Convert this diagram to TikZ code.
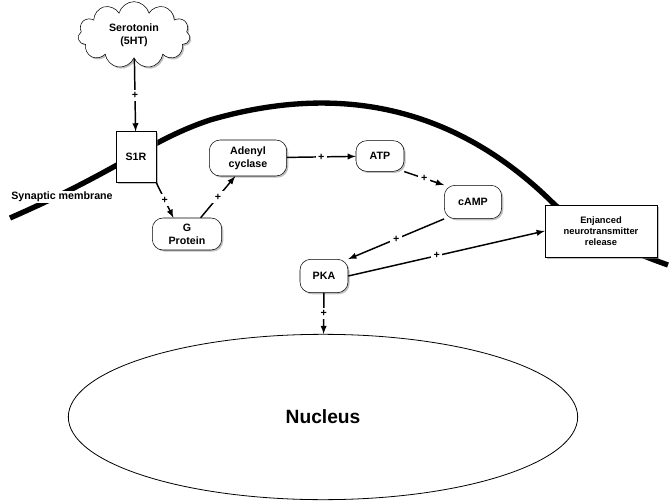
\documentclass[tikz,border=0pt]{standalone}
\usepackage{fontspec}
\setmainfont{Liberation Sans}
\usetikzlibrary{positioning, arrows, shapes.symbols, shapes.geometric, shadows}
\tikzset{
>=latex, % filled arrow heads
box/.style={draw, fill=white, font=\bfseries\footnotesize, align=center, drop shadow={opacity=0.5, shadow xshift=1.2pt, shadow yshift=-1.2pt}},
roundbox/.style={box, rounded corners=8pt},
link/.style={->, line width=1.1pt},
plus/.style={fill=white, font=\bfseries\footnotesize, inner sep=2pt},
}
\begin{document}
\begin{tikzpicture}[x=0.75pt, y=-0.75pt]
    \useasboundingbox (0,0) rectangle (671,502);
    % membrane
    \draw[line width=4pt] (10,218) .. controls (120,170) and (150,140) .. (210,120)
        .. controls (330,85) and (450,100) .. (555,205)
        .. controls (600,240) and (640,255) .. (668,265);
    \node[font=\bfseries\footnotesize, fill=white, inner sep=1pt] (membrane) at (62,197) {Synaptic membrane};
    % nodes
    \node[cloud, cloud puffs=11, aspect=1.7, box, minimum width=84pt, minimum height=50pt] (sero) at (134,35) {Serotonin\\(5HT)};
    \node[box, minimum width=30pt, minimum height=38pt] (s1r) at (136,157) {S1R};
    \node[roundbox, minimum width=52pt, minimum height=24pt] (gprot) at (187,234) {G\\Protein};
    \node[roundbox, minimum width=58pt, minimum height=27pt] (adenyl) at (248,158) {Adenyl\\cyclase};
    \node[roundbox, minimum width=36pt, minimum height=23pt] (atp) at (380,156) {ATP};
    \node[roundbox, minimum width=43pt, minimum height=25pt] (camp) at (473,202) {cAMP};
    \node[box, minimum width=84pt, minimum height=39pt, font=\bfseries\scriptsize] (release) at (601,231) {Enjanced\\neurotransmitter\\release};
    \node[roundbox, minimum width=36pt, minimum height=25pt] (pka) at (324,276) {PKA};
    \node[draw, fill=white, ellipse, line width=0.6pt, minimum width=382pt, minimum height=124pt, font=\bfseries\Large] (nucleus) at (323,417) {Nucleus};
    % connections
    \draw[link] (sero) -- node[plus] {+} (s1r);
    \draw[link] (s1r.south east) -- node[plus] {+} (gprot.130);
    \draw[link] (gprot.50) -- node[plus] {+} (adenyl.235);
    \draw[link] (adenyl) -- node[plus] {+} (atp);
    \draw[link] (atp.south east) -- node[plus] {+} (camp.north west);
    \draw[link] (camp.south west) -- node[plus] {+} (pka.north east);
    \draw[link] (pka.east) -- node[plus, pos=0.45] {+} (release.west);
    \draw[link] (pka) -- node[plus] {+} (nucleus);
\end{tikzpicture}
\end{document}
